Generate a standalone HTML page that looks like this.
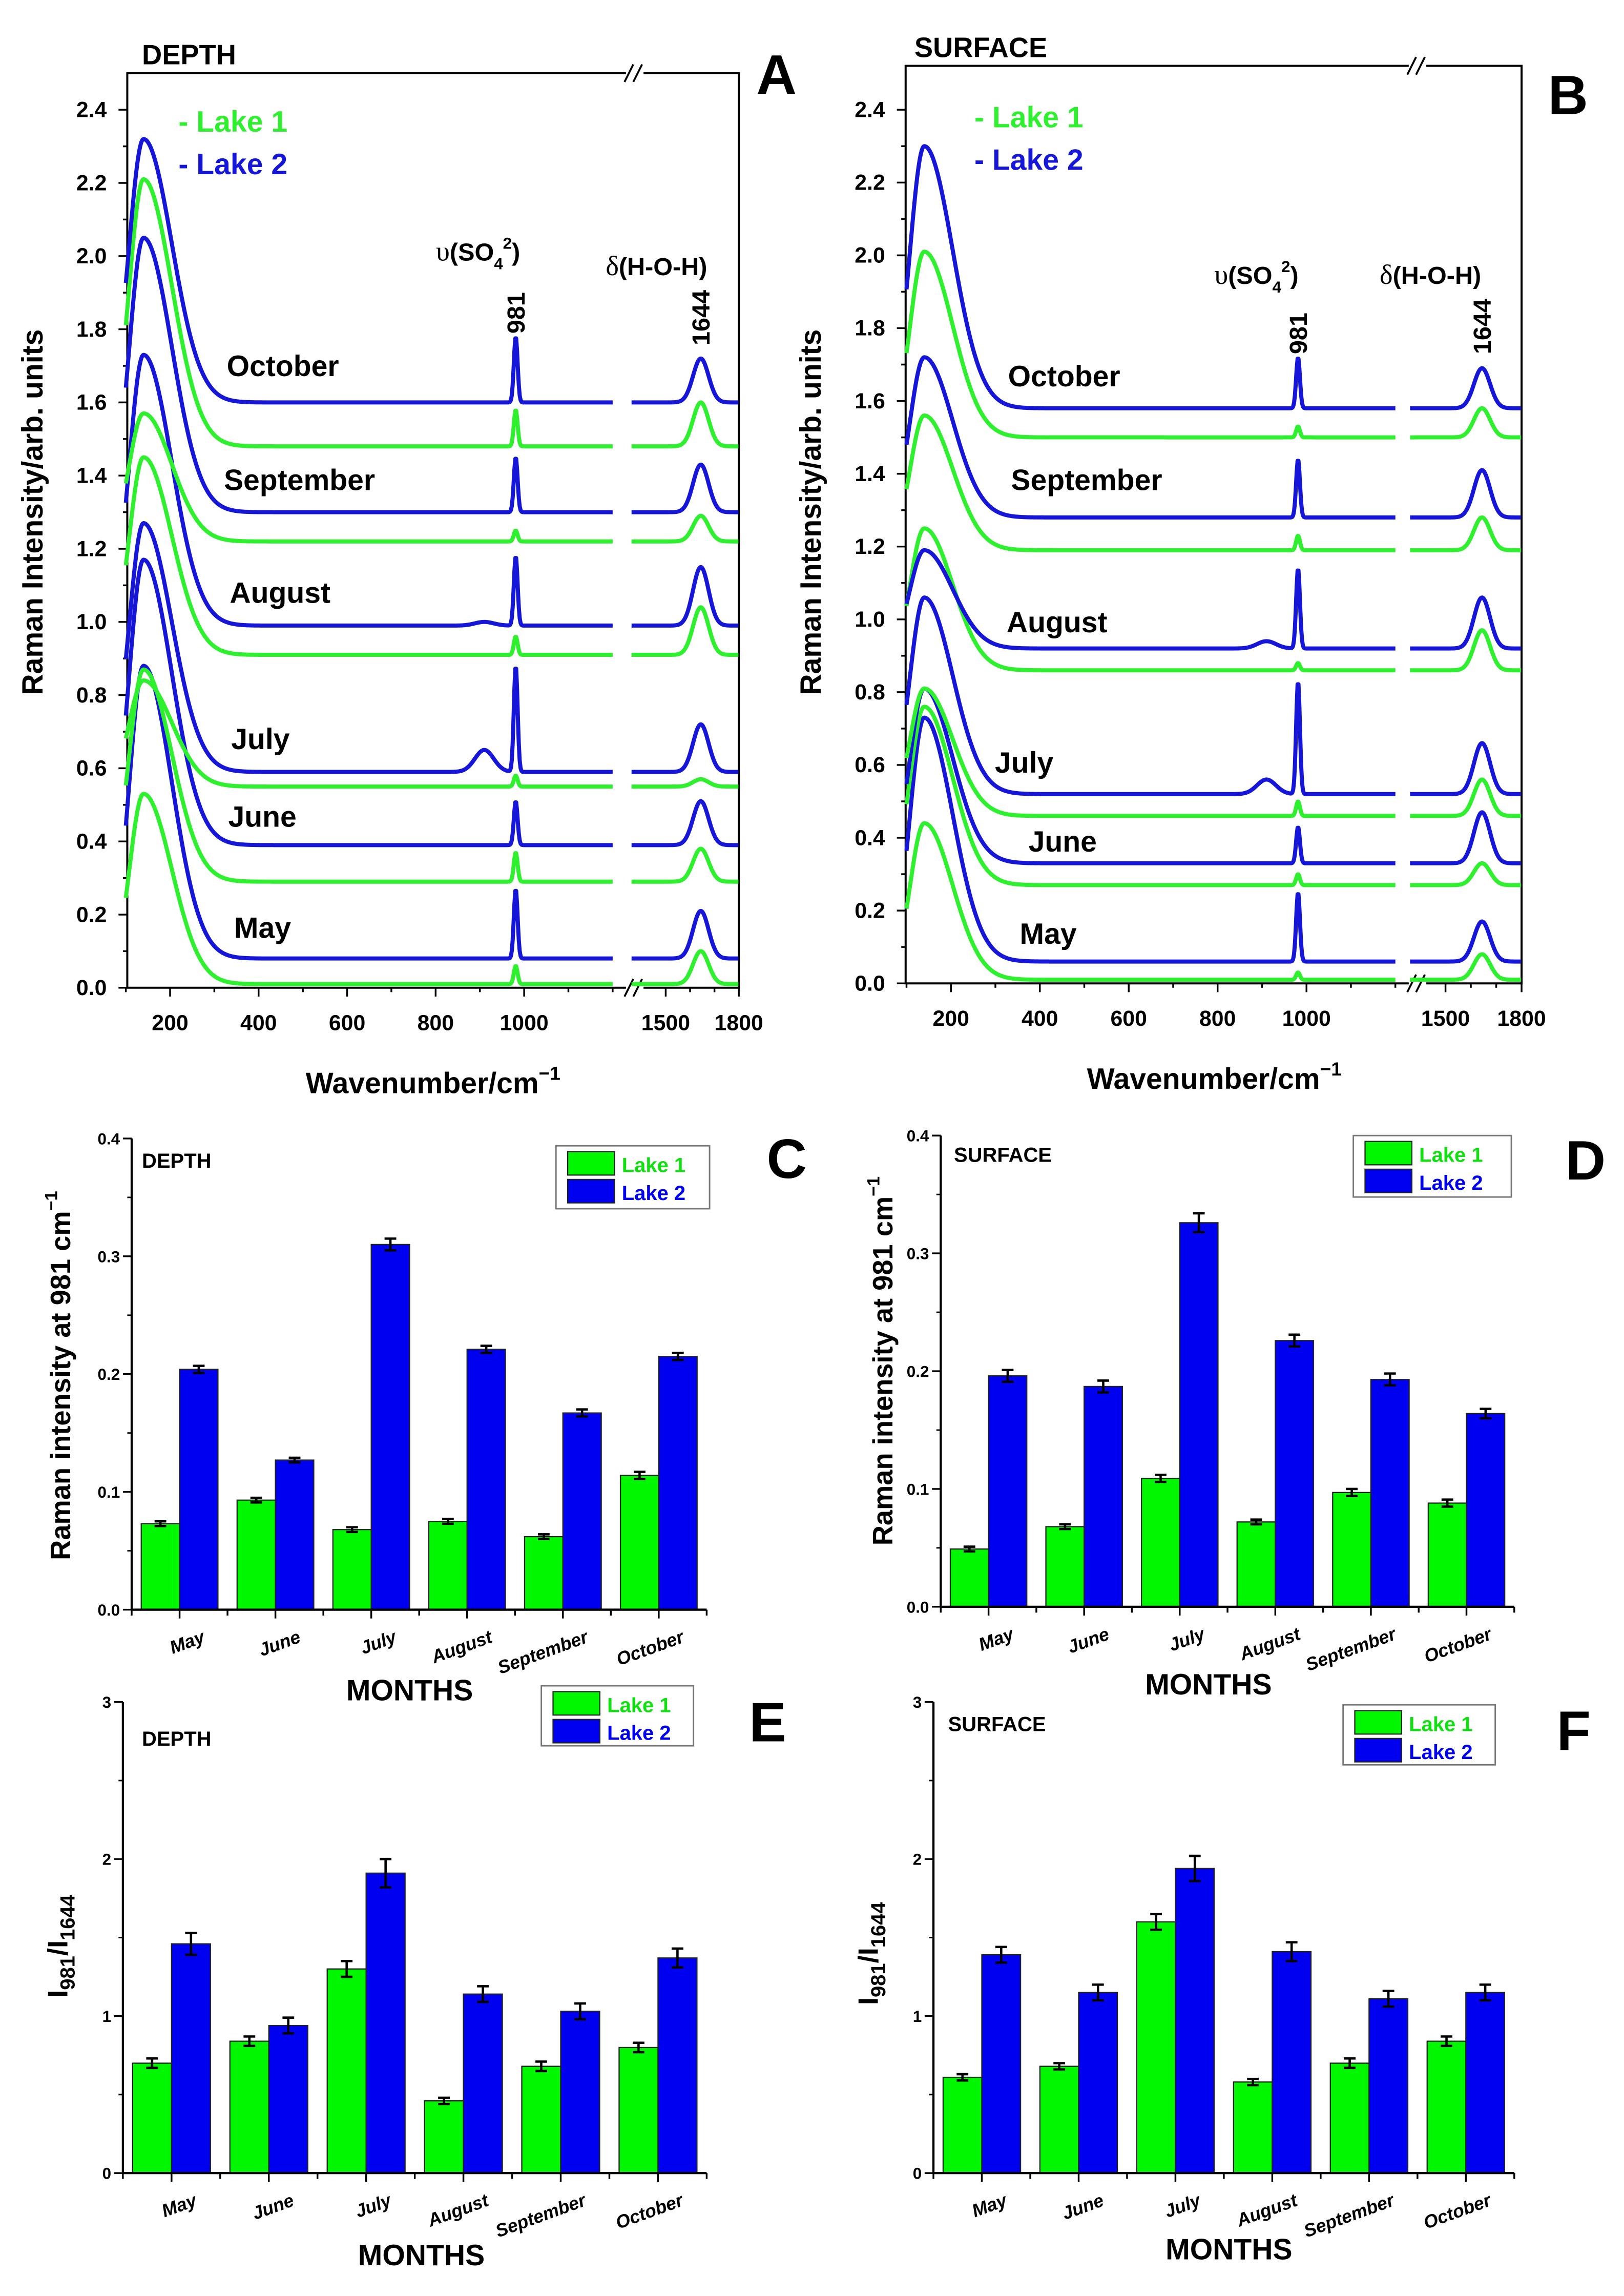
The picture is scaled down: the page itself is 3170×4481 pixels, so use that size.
<!DOCTYPE html>
<html><head><meta charset="utf-8"><style>
html,body{margin:0;padding:0;background:#fff;}
svg{display:block;}
text{font-family:"Liberation Sans",Arial,sans-serif;}
</style></head><body>
<svg id="fig" xmlns="http://www.w3.org/2000/svg" width="3170" height="4481" viewBox="0 0 1110 1569" preserveAspectRatio="none"></svg>
<script>
// ---------- Spectra data (panels A, B) ----------
const monthsList = ["May","June","July","August","September","October"];
// Panel A (depth)  order: May..October
const A_L1_base = [0.01,0.29,0.55,0.91,1.22,1.48];
const A_L1_low  = [0.53,0.87,0.84,1.45,1.57,2.21];
const A_L1_981  = [0.06,0.37,0.58,0.96,1.25,1.58];
const A_L1_1644 = [0.10,0.38,0.57,1.04,1.29,1.60];
const A_L2_base = [0.08,0.39,0.59,0.99,1.30,1.60];
const A_L2_low  = [0.88,1.17,1.27,1.73,2.05,2.32];
const A_L2_981  = [0.27,0.51,0.88,1.18,1.45,1.78];
const A_L2_1644 = [0.21,0.51,0.72,1.15,1.43,1.72];
const A_L2_910  = [0,0,0.06,0.01,0,0];
// Panel B (surface)
const B_L1_base = [0.01,0.27,0.46,0.86,1.19,1.50];
const B_L1_low  = [0.44,0.76,0.81,1.25,1.56,2.01];
const B_L1_981  = [0.03,0.30,0.50,0.88,1.23,1.53];
const B_L1_1644 = [0.08,0.33,0.56,0.97,1.28,1.58];
const B_L2_base = [0.06,0.33,0.52,0.92,1.28,1.58];
const B_L2_low  = [0.73,0.81,1.06,1.19,1.72,2.30];
const B_L2_981  = [0.25,0.43,0.83,1.14,1.44,1.72];
const B_L2_1644 = [0.17,0.47,0.66,1.06,1.41,1.69];
const B_L2_910  = [0,0,0.04,0.02,0,0];

// ---------- Bar data ----------
const C_lake1 = [0.073,0.093,0.068,0.075,0.062,0.114];
const C_lake2 = [0.204,0.127,0.310,0.221,0.167,0.215];
const C_err1 = [0.002,0.002,0.002,0.002,0.002,0.003];
const C_err2 = [0.003,0.002,0.005,0.003,0.003,0.003];
const D_lake1 = [0.049,0.068,0.109,0.072,0.097,0.088];
const D_lake2 = [0.196,0.187,0.326,0.226,0.193,0.164];
const D_err1 = [0.002,0.002,0.003,0.002,0.003,0.003];
const D_err2 = [0.005,0.005,0.008,0.005,0.005,0.004];
const E_lake1 = [0.70,0.84,1.30,0.46,0.68,0.80];
const E_lake2 = [1.46,0.94,1.91,1.14,1.03,1.37];
const E_err1 = [0.03,0.03,0.05,0.02,0.03,0.03];
const E_err2 = [0.07,0.05,0.09,0.05,0.05,0.06];
const F_lake1 = [0.61,0.68,1.60,0.58,0.70,0.84];
const F_lake2 = [1.39,1.15,1.94,1.41,1.11,1.15];
const F_err1 = [0.02,0.02,0.05,0.02,0.03,0.03];
const F_err2 = [0.05,0.05,0.08,0.06,0.05,0.05];
const yTicksCD = [0,0.1,0.2,0.3,0.4];
const yTicksEF = [0,1,2,3];

const GREEN="#2ff02f", BLUE="#1616d8", BARG="#00f700", BARB="#0000f0";
const NS="http://www.w3.org/2000/svg";
const svg=document.getElementById('fig');
function el(tag,attrs,parent,txt){const e=document.createElementNS(NS,tag);for(const k in attrs)e.setAttribute(k,attrs[k]);if(txt!==undefined)e.textContent=txt;(parent||svg).appendChild(e);return e;}
function grp(name){const g=document.createElementNS(NS,'g');


svg.appendChild(g);return g;}

// ---------- Spectra panel ----------
function spectraPanel(cfg){
  const g=grp(cfg.name);
  const X=v=> v<=1250 ? cfg.xl0+(v-100)*cfg.kl : cfg.xr0+(v-1500)*cfg.kr;
  const Y=v=> cfg.y0-v*cfg.ky;
  const fr=el('path',{d:`M${cfg.left},${cfg.top}H${cfg.right}V${cfg.y0}H${cfg.left}Z`,fill:'none',stroke:'#000','stroke-width':1.4},g);
  
  
  [cfg.top,cfg.y0].forEach(yy=>{
    const bx=X(1240);
    el('rect',{x:bx-3,y:yy-3,width:12,height:6,fill:'#fff'},g);
    [0,6].forEach(d=>{const l=el('line',{x1:bx-4+d,y1:yy+6,x2:bx+2+d,y2:yy-6,stroke:'#000','stroke-width':1.3},g);
      
      });
  });
  for(let i=0;i<=24;i++){const v=i/10,yy=Y(v);
    el('line',{x1:cfg.left,x2:cfg.left-(i%2?3:6),y1:yy,y2:yy,stroke:'#000','stroke-width':1.2},g);
    if(i%2==0){const t=el('text',{x:cfg.left-14,y:yy+5,'text-anchor':'end','font-size':15,'font-weight':'bold'},g,v.toFixed(1));
      
      }}
  [100,200,300,400,500,600,700,800,900,1000,1100,1200,1500,1600,1700,1800].forEach(v=>{
    const major=[200,400,600,800,1000,1500,1800].includes(v);
    el('line',{x1:X(v),x2:X(v),y1:cfg.y0,y2:cfg.y0+(major?6:3),stroke:'#000','stroke-width':1.2},g);
    if(major){const t=el('text',{x:X(v),y:cfg.y0+29,'text-anchor':'middle','font-size':15,'font-weight':'bold'},g,String(v));
      
      }
  });
  function curve(base,low,p981,p1644,p910,color,name){
    const f=x=>{
      const s=x<140?45:90;
      let y=base+(low-base)*Math.exp(-Math.pow((x-140)/s,2));
      y+=(p981-base)*Math.exp(-Math.pow((x-981)/6,2));
      y+=(p1644-base)*Math.exp(-Math.pow((x-1644)/45,2));
      y+=p910*Math.exp(-Math.pow((x-910)/30,2));
      return y;};
    let d='';
    for(let x=100;x<=1200;x+=2){d+=(x==100?'M':'L')+X(x).toFixed(2)+','+Y(f(x)).toFixed(2);}
    for(let x=1360;x<=1800;x+=3){d+=(x==1360?'M':'L')+X(x).toFixed(2)+','+Y(f(x)).toFixed(2);}
    const p=el('path',{d:d,fill:'none',stroke:color,'stroke-width':2.8,'stroke-linejoin':'round'},g);
    
    
  }
  for(let i=0;i<6;i++){
    curve(cfg.l1b[i],cfg.l1l[i],cfg.l1a[i],cfg.l1c[i],0,GREEN,'spectrum-lake1-'+monthsList[i].toLowerCase());
    curve(cfg.l2b[i],cfg.l2l[i],cfg.l2a[i],cfg.l2c[i],cfg.l2e[i],BLUE,'spectrum-lake2-'+monthsList[i].toLowerCase());
  }
  cfg.monthPos.forEach((p,i)=>{const t=el('text',{x:p[0],y:p[1],'font-size':20,'font-weight':'bold'},g,monthsList[i]);
    
    });
  const mk=(name,attrs,txt)=>{const t=el('text',attrs,g,txt);return t;};
  mk('panel-title',{x:cfg.titlePos[0],y:cfg.titlePos[1],'font-size':19,'font-weight':'bold'},cfg.title);
  mk('panel-letter',{x:cfg.letterPos[0],y:cfg.letterPos[1],'font-size':38,'font-weight':'bold'},cfg.letter);
  mk('legend-lake1',{x:cfg.legPos[0],y:cfg.legPos[1],'font-size':20,'font-weight':'bold',fill:GREEN},'- Lake 1');
  mk('legend-lake2',{x:cfg.legPos[0],y:cfg.legPos[1]+29,'font-size':20,'font-weight':'bold',fill:BLUE},'- Lake 2');
  const so=mk('sulfate-band-label',{x:cfg.soPos[0],y:cfg.soPos[1],'font-size':17,'font-weight':'bold'},'');
  so.innerHTML='<tspan font-family="Liberation Serif" font-weight="normal" font-size="19">υ</tspan>(SO<tspan font-size="11" dy="6">4</tspan><tspan font-size="11" dy="-14">2</tspan><tspan dy="8">)</tspan>';
  const dl=mk('bending-band-label',{x:cfg.dPos[0],y:cfg.dPos[1],'font-size':17,'font-weight':'bold'},'');
  dl.innerHTML='<tspan font-family="Liberation Serif" font-weight="normal" font-size="19">δ</tspan>(H-O-H)';
  mk('peak-981-label',{x:0,y:0,'font-size':17,'font-weight':'bold',transform:`translate(${X(981)+6},${cfg.y981}) rotate(-90)`},'981');
  mk('peak-1644-label',{x:0,y:0,'font-size':17,'font-weight':'bold',transform:`translate(${X(1644)+6},${cfg.y1644}) rotate(-90)`},'1644');
  mk('y-axis-title',{x:0,y:0,'font-size':20,'font-weight':'bold','text-anchor':'middle',transform:`translate(${cfg.left-58},350) rotate(-90)`},'Raman Intensity/arb. units');
  const xt=mk('x-axis-title',{x:cfg.xtPos[0],y:cfg.xtPos[1],'font-size':20,'font-weight':'bold','text-anchor':'middle'},'');
  xt.innerHTML='Wavenumber/cm<tspan font-size="13" dy="-9">−1</tspan>';
}

spectraPanel({name:'panel-a-depth-spectra',left:87,right:505,top:50,y0:675,ky:250,
  xl0:86,kl:0.3025,xr0:455,kr:1/6,
  l1b:A_L1_base,l1l:A_L1_low,l1a:A_L1_981,l1c:A_L1_1644,
  l2b:A_L2_base,l2l:A_L2_low,l2a:A_L2_981,l2c:A_L2_1644,l2e:A_L2_910,
  monthPos:[[160,641],[156,565],[158,512],[157,412],[153,335],[155,257]],
  title:'DEPTH',titlePos:[97,44],letter:'A',letterPos:[517,64],legPos:[122,90],
  soPos:[298,178],dPos:[414,188],y981:228,y1644:236,xtPos:[296,747]});
spectraPanel({name:'panel-b-surface-spectra',left:619,right:1040,top:45,y0:672,ky:248.75,
  xl0:619.6,kl:0.30375,xr0:988,kr:1/5.77,
  l1b:B_L1_base,l1l:B_L1_low,l1a:B_L1_981,l1c:B_L1_1644,
  l2b:B_L2_base,l2l:B_L2_low,l2a:B_L2_981,l2c:B_L2_1644,l2e:B_L2_910,
  monthPos:[[697,645],[703,582],[680,528],[688,432],[691,335],[689,264]],
  title:'SURFACE',titlePos:[625,39],letter:'B',letterPos:[1058,78],legPos:[666,87],
  soPos:[830,194],dPos:[943,194],y981:242,y1644:242,xtPos:[830,744]});

// ---------- Bar panels ----------
function barPanel(cfg){
  const g=grp(cfg.name);
  const Y=v=>cfg.y0-v*cfg.ky;
  const gw=(cfg.x1-cfg.x0)/6;
  const mk=(name,tag,attrs,txt)=>{const t=el(tag,attrs,g,txt);return t;};
  for(let i=0;i<6;i++){
    const gx=cfg.x0+gw*i;
    [[cfg.l1,cfg.e1,BARG,'lake1',0.1],[cfg.l2,cfg.e2,BARB,'lake2',0.5]].forEach(s=>{
      const v=s[0][i],bx=gx+gw*s[4],bw=gw*0.4;
      mk('bar-'+s[3]+'-'+monthsList[i].toLowerCase(),'rect',{x:bx,y:Y(v),width:bw,height:cfg.y0-Y(v),fill:s[2],stroke:'#222','stroke-width':0.8});
      const cx=bx+bw/2,e=s[1][i];
      mk('error-bar','path',{d:`M${cx},${Y(v+e)}V${Y(v-e)}M${cx-4},${Y(v+e)}H${cx+4}M${cx-4},${Y(v-e)}H${cx+4}`,stroke:'#000','stroke-width':1.6,fill:'none'});
    });
    mk('x-tick-label','text',{x:0,y:0,'font-size':12.5,'font-weight':'bold','font-style':'italic','text-anchor':'end',transform:`translate(${gx+gw/2+18},${cfg.y0+22}) rotate(-20)`},monthsList[i]);
  }
  mk('x-axis','path',{d:`M${cfg.x0},${cfg.y0}H${cfg.x1}`,stroke:'#000','stroke-width':1.5});
  mk('y-axis','path',{d:`M${cfg.x0},${cfg.y0}V${Y(cfg.ticks[cfg.ticks.length-1])}`,stroke:'#000','stroke-width':1.5});
  for(let i=0;i<=6;i++){const x=cfg.x0+gw*i;el('line',{x1:x,x2:x,y1:cfg.y0,y2:cfg.y0+4,stroke:'#000','stroke-width':1.2},g);}
  for(let i=0;i<6;i++){const x=cfg.x0+gw*(i+0.5);el('line',{x1:x,x2:x,y1:cfg.y0,y2:cfg.y0+6,stroke:'#000','stroke-width':1.2},g);}
  cfg.ticks.forEach((v,i)=>{
    el('line',{x1:cfg.x0,x2:cfg.x0-6,y1:Y(v),y2:Y(v),stroke:'#000','stroke-width':1.2},g);
    if(i<cfg.ticks.length-1){const m=(v+cfg.ticks[i+1])/2;el('line',{x1:cfg.x0,x2:cfg.x0-3,y1:Y(m),y2:Y(m),stroke:'#000','stroke-width':1},g);}
    mk('y-tick-label','text',{x:cfg.x0-8,y:Y(v)+4,'font-size':11,'font-weight':'bold','text-anchor':'end'},cfg.fmt(v));
  });
  mk('panel-title','text',{x:cfg.titlePos[0],y:cfg.titlePos[1],'font-size':14,'font-weight':'bold'},cfg.title);
  mk('panel-letter','text',{x:cfg.letterPos[0],y:cfg.letterPos[1],'font-size':38,'font-weight':'bold'},cfg.letter);
  mk('x-axis-title','text',{x:cfg.mPos[0],y:cfg.mPos[1],'font-size':20,'font-weight':'bold','text-anchor':'middle'},'MONTHS');
  const L=cfg.leg;
  mk('legend-box','rect',{x:L[0],y:L[1],width:L[2],height:L[3],fill:'#fff',stroke:'#777','stroke-width':1});
  mk('legend-swatch-lake1','rect',{x:L[0]+8,y:L[1]+4,width:32,height:16,fill:BARG,stroke:'#222','stroke-width':0.8});
  mk('legend-swatch-lake2','rect',{x:L[0]+8,y:L[1]+23,width:32,height:16,fill:BARB,stroke:'#222','stroke-width':0.8});
  mk('legend-label-lake1','text',{x:L[0]+45,y:L[1]+18,'font-size':14,'font-weight':'bold',fill:'#10e010'},'Lake 1');
  mk('legend-label-lake2','text',{x:L[0]+45,y:L[1]+37,'font-size':14,'font-weight':'bold',fill:BARB},'Lake 2');
  const yt=mk('y-axis-title','text',{x:0,y:0,'font-size':19,'font-weight':'bold','text-anchor':'middle',transform:`translate(${cfg.ytX},${cfg.ytY}) rotate(-90)`},'');
  yt.innerHTML=cfg.ytHTML;
}
const ytC='Raman intensity at 981 cm<tspan font-size="12" dy="-9">−1</tspan>';
const ytE='I<tspan font-size="14" dy="5">981</tspan><tspan dy="-5">/I</tspan><tspan font-size="14" dy="5">1644</tspan>';
barPanel({name:'panel-c-depth-981',x0:90,x1:483,y0:1100,ky:805,ticks:yTicksCD,fmt:v=>v.toFixed(1),
  l1:C_lake1,l2:C_lake2,e1:C_err1,e2:C_err2,title:'DEPTH',titlePos:[97,798],letter:'C',letterPos:[524,805],
  mPos:[280,1162],leg:[380,783,105,43],ytX:48,ytY:940,ytHTML:ytC});
barPanel({name:'panel-d-surface-981',x0:643,x1:1035,y0:1098,ky:805,ticks:yTicksCD,fmt:v=>v.toFixed(1),
  l1:D_lake1,l2:D_lake2,e1:D_err1,e2:D_err2,title:'SURFACE',titlePos:[652,794],letter:'D',letterPos:[1070,806],
  mPos:[826,1158],leg:[925,776,108,42],ytX:610,ytY:930,ytHTML:ytC});
barPanel({name:'panel-e-depth-ratio',x0:84,x1:483,y0:1485,ky:107.3,ticks:yTicksEF,fmt:v=>String(v),
  l1:E_lake1,l2:E_lake2,e1:E_err1,e2:E_err2,title:'DEPTH',titlePos:[97,1193],letter:'E',letterPos:[512,1190],
  mPos:[288,1548],leg:[370,1152,104,41],ytX:46,ytY:1330,ytHTML:ytE});
barPanel({name:'panel-f-surface-ratio',x0:638,x1:1035,y0:1485,ky:107.3,ticks:yTicksEF,fmt:v=>String(v),
  l1:F_lake1,l2:F_lake2,e1:F_err1,e2:F_err2,title:'SURFACE',titlePos:[648,1183],letter:'F',letterPos:[1064,1196],
  mPos:[840,1544],leg:[918,1165,104,41],ytX:600,ytY:1335,ytHTML:ytE});
</script>
</body></html>
